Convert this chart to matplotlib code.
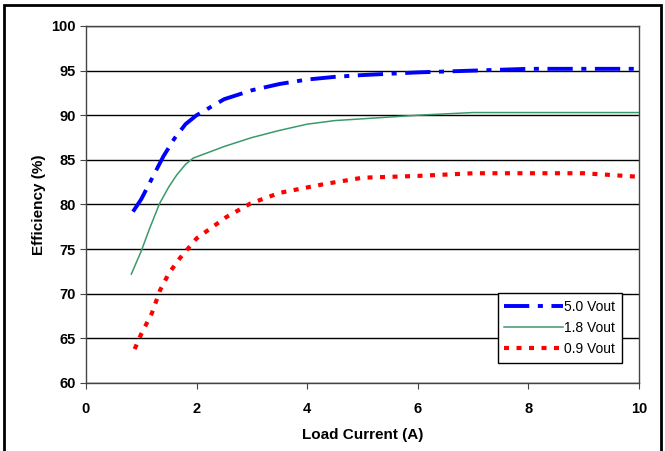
import matplotlib
matplotlib.use("Agg")
import matplotlib.pyplot as plt
from matplotlib.patches import Rectangle

# load current (A) and efficiency (%)
x_50 = [0.85, 1.0, 1.2, 1.4, 1.6, 1.8, 2.0, 2.5, 3.0, 3.5, 4.0, 4.5, 5.0, 6.0, 7.0, 8.0, 9.0, 10.0]
eff_50 = [79.2, 80.6, 83.0, 85.4, 87.4, 89.0, 90.0, 91.8, 92.8, 93.5, 94.0, 94.3, 94.5, 94.8, 95.0, 95.2, 95.2, 95.2]

x_18 = [0.82, 1.0, 1.15, 1.33, 1.5, 1.64, 1.8, 1.94, 2.2, 2.5, 3.0, 3.5, 4.0, 4.5, 5.0, 6.0, 7.0, 8.0, 10.0]
eff_18 = [72.2, 74.8, 77.3, 80.1, 82.0, 83.3, 84.5, 85.2, 85.8, 86.5, 87.5, 88.3, 89.0, 89.4, 89.6, 90.0, 90.3, 90.3, 90.3]

x_09 = [0.88, 1.0, 1.19, 1.34, 1.5, 1.7, 2.0, 2.54, 2.97, 3.5, 4.32, 5.0, 6.0, 7.0, 8.0, 9.0, 10.0]
eff_09 = [63.8, 65.5, 67.8, 70.4, 72.3, 74.0, 76.2, 78.6, 80.1, 81.3, 82.3, 83.0, 83.2, 83.5, 83.5, 83.5, 83.1]

plt.rcParams["font.family"] = ["Liberation Sans", "DejaVu Sans"]

fig = plt.figure(figsize=(6.65, 4.51), dpi=100)
ax = fig.add_axes([0.1293, 0.1508, 0.8317, 0.7916])

ax.plot(x_50, eff_50, color="#0000ff", lw=2.8, dashes=(6.5, 2.2, 1.3, 2.2), label="5.0 Vout", zorder=3)
ax.plot(x_18, eff_18, color="#3a9a6a", lw=1.1, label="1.8 Vout", zorder=3)
ax.plot(x_09, eff_09, color="#ff0000", lw=3.0, dashes=(1.2, 1.8), label="0.9 Vout", zorder=3)

ax.set_xlim(0, 10)
ax.set_ylim(60, 100)
ax.set_xticks(range(0, 11, 2))
ax.set_yticks(range(60, 101, 5))
ax.grid(axis="y", color="black", lw=1)
ax.set_axisbelow(True)
for s in ax.spines.values():
    s.set_color("#444444")
    s.set_linewidth(1)
ax.tick_params(direction="out", length=4, color="#444444", labelsize=10.5)
ax.tick_params(axis="x", pad=10)
for lab in ax.get_xticklabels() + ax.get_yticklabels():
    lab.set_fontweight("bold")
ax.set_xlabel("Load Current (A)", fontsize=11, fontweight="bold", labelpad=8)
ax.set_ylabel("Efficiency (%)", fontsize=11, fontweight="bold", labelpad=4)

leg = ax.legend(loc="lower right", bbox_to_anchor=(0.982, 0.036), fontsize=10,
                fancybox=False, framealpha=1, edgecolor="black",
                handlelength=4.2, handletextpad=0.1, borderpad=0.5, labelspacing=0.5)
leg.get_frame().set_linewidth(1)

fig.patches.append(Rectangle((4 / 665, -0.1), 657 / 665, 1.1 - 5 / 451,
                             transform=fig.transFigure, fill=False,
                             edgecolor="black", lw=2))

fig.savefig("out.png", dpi=100)
